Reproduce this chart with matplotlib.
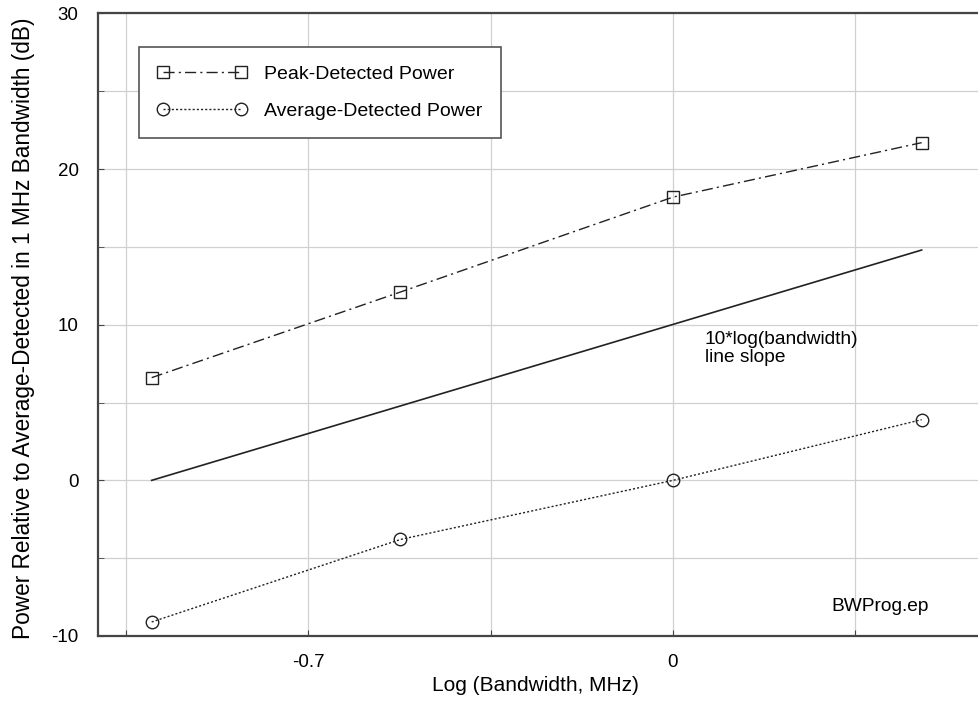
import numpy as np
import matplotlib
matplotlib.use("Agg")
import matplotlib.pyplot as plt

plt.rcParams['font.family'] = ['Liberation Sans', 'DejaVu Sans']
plt.rcParams['axes.unicode_minus'] = False

# log10 of bandwidth (0.1, 0.3, 1, 3 MHz)
log_bw = [-1.0, -0.523, 0.0, 0.477]
peak_db = [6.6, 12.1, 18.2, 21.7]
avg_db = [-9.1, -3.8, 0.0, 3.9]
slope_x = [-1.0, 0.477]
slope_db = [0.0, 14.8]

xticks = [-1.05, -0.7, -0.35, 0.0, 0.35]
xticklabels = ['', '-0.7', '', '0', '']
yticks = [-10, 0, 10, 20, 30]
yminor = [-5, 5, 15, 25]

fig = plt.figure(figsize=(9.79, 7.25), dpi=100)
ax = fig.add_axes([0.1001, 0.1228, 0.8999, 0.8586])

ax.plot(log_bw, peak_db, color='#222222', lw=1.0, ls=(0, (8, 3, 1.5, 3)),
        marker='s', ms=9, mfc='none', mec='#222222', mew=1.0,
        label='Peak-Detected Power')
ax.plot(log_bw, avg_db, color='#222222', lw=1.0, ls=(0, (1.5, 1.5)),
        marker='o', ms=9, mfc='none', mec='#222222', mew=1.0,
        label='Average-Detected Power')
ax.plot(slope_x, slope_db, color='#222222', lw=1.2)

ax.set_xlim(-1.103, 0.587)
ax.set_ylim(-10, 30)
ax.set_xticks(xticks)
ax.set_xticklabels(xticklabels)
ax.set_yticks(yticks)
ax.set_yticks(yminor, minor=True)
ax.tick_params(which='both', direction='in', labelsize=13.5, length=4, color='#444444')
ax.tick_params(axis='x', pad=13)
ax.tick_params(axis='y', pad=14)
ax.grid(True, which='both', color='#d0d0d0', lw=0.9)
ax.set_axisbelow(True)
for side in ['left', 'bottom', 'top']:
    ax.spines[side].set_linewidth(1.6)
    ax.spines[side].set_color('#444444')
ax.spines['right'].set_visible(False)

ax.set_xlabel('Log (Bandwidth, MHz)', fontsize=15)
ax.xaxis.set_label_coords(0.496, -0.064)
ax.set_ylabel('Power Relative to Average-Detected in 1 MHz Bandwidth (dB)', fontsize=16.3)
ax.yaxis.set_label_coords(-0.072, 0.495)

ax.text(0.061, 9.6, '10*log(bandwidth)\nline slope', fontsize=13.8, va='top', ha='left',
        linespacing=1.05)
ax.text(0.303, -8.1, 'BWProg.ep', fontsize=13.8, va='center', ha='left')

leg = ax.legend(loc='upper left', bbox_to_anchor=(139 / 979, 1 - 47 / 725),
                bbox_transform=fig.transFigure, borderaxespad=0, numpoints=2,
                handlelength=4.6, fontsize=14, fancybox=False, framealpha=1,
                edgecolor='#555555', borderpad=0.95, labelspacing=0.98,
                handletextpad=0.9)
leg.get_frame().set_linewidth(1.2)

fig.savefig('out.png', dpi=100)
